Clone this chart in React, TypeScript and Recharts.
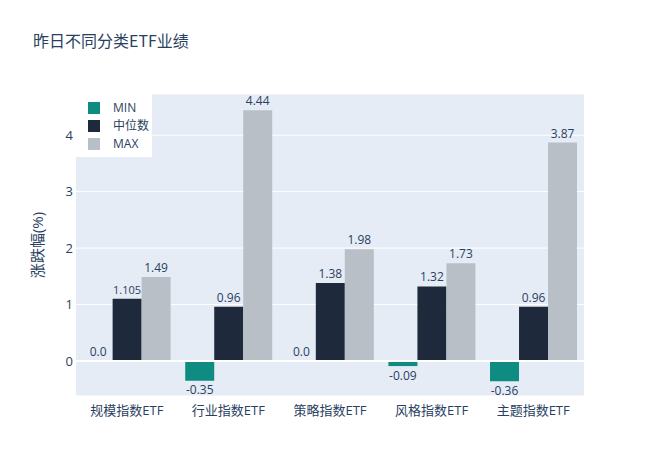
import React from 'react';
import { BarChart, Bar, XAxis, YAxis, CartesianGrid, LabelList, ReferenceLine } from 'recharts';

const categories = ['规模指数ETF', '行业指数ETF', '策略指数ETF', '风格指数ETF', '主题指数ETF'];
const minValues = [0, -0.35, 0, -0.09, -0.36];
const medianValues = [1.105, 0.96, 1.38, 1.32, 0.96];
const maxValues = [1.49, 4.44, 1.98, 1.73, 3.87];
const yTicks = [0, 1, 2, 3, 4];

const series = [
  { key: 'min', name: 'MIN', color: '#0e8c82' },
  { key: 'median', name: '中位数', color: '#1e2a3b' },
  { key: 'max', name: 'MAX', color: '#b8bfc7' },
];

const data = categories.map((name, i) => ({
  name,
  min: minValues[i],
  median: medianValues[i],
  max: maxValues[i],
}));

const FONT = '"Open Sans", "DejaVu Sans", "Noto Sans CJK SC", sans-serif';
const TEXT = '#2a3f5f';

const fmt = (v: number) => (v === 0 ? '0.0' : String(v));

const labelText = (cx: number, y: number, value: number, below: boolean) => {
  const label = fmt(value);
  // plotly shrinks the long "1.105" to fit the bar width
  const size = value > 0 && label.length > 4 ? 11 : 12;
  return (
    <text
      x={cx}
      y={below ? y + 4 : y - 5}
      dy={below ? '0.8em' : 0}
      textAnchor="middle"
      fontSize={size}
      fill={TEXT}
      fontFamily={FONT}
    >
      {label}
    </text>
  );
};

const ValueLabel = (props: any) => {
  const { x, y, width, height, value } = props;
  const top = Math.min(y, y + height);
  const bottom = Math.max(y, y + height);
  return value < 0 ? labelText(x + width / 2, bottom, value, true) : labelText(x + width / 2, top, value, false);
};

// zero-height MIN bars are not drawn, so their "0.0" label hangs off the median bar next to them
const MedianLabel = (props: any) => {
  const { x, y, width, height, value, index } = props;
  const top = Math.min(y, y + height);
  const zeroY = Math.max(y, y + height);
  return (
    <g>
      {labelText(x + width / 2, top, value, false)}
      {minValues[index] === 0 && labelText(x - width / 2, zeroY, 0, false)}
    </g>
  );
};

const LegendBox = () => (
  <div
    style={{
      position: 'absolute',
      left: 75,
      top: 94,
      background: '#fff',
      width: 77,
      height: 63,
      fontFamily: FONT,
      fontSize: 12,
      color: TEXT,
    }}
  >
    {series.map((s, i) => (
      <div key={s.key} style={{ position: 'absolute', left: 13, top: 8 + i * 18, display: 'flex', alignItems: 'center' }}>
        <span style={{ display: 'inline-block', width: 12, height: 12, background: s.color }} />
        <span style={{ marginLeft: 13, lineHeight: '12px' }}>{s.name}</span>
      </div>
    ))}
  </div>
);

const App: React.FC = () => {
  return (
    <div style={{ position: 'absolute', left: 0, top: 0, width: 660, height: 472, background: '#fff', fontFamily: FONT }}>
      <div style={{ position: 'absolute', left: 33, top: 28, fontSize: 16, color: TEXT, fontFamily: '"Noto Sans CJK SC", sans-serif' }}>
        昨日不同分类ETF业绩
      </div>
      <svg width={60} height={472} style={{ position: 'absolute', left: 0, top: 0 }}>
        <text
          x={37}
          y={245}
          transform="rotate(-90 37 245)"
          textAnchor="middle"
          dominantBaseline="central"
          fontSize={15}
          fill={TEXT}
          fontFamily={FONT}
        >
          涨跌幅(%)
        </text>
      </svg>
      <div style={{ position: 'absolute', left: 0, top: 0 }}>
        <BarChart
          width={660}
          height={472}
          data={data}
          margin={{ top: 94, right: 76, bottom: 46, left: 0 }}
          barCategoryGap="7.5%"
          barGap={0}
        >
          <CartesianGrid vertical={false} fill="#E5ECF6" stroke="#ffffff" strokeWidth={1} />
          <ReferenceLine y={0} stroke="#ffffff" strokeWidth={2} />
          <XAxis
            dataKey="name"
            height={30}
            tickLine={false}
            axisLine={false}
            tickMargin={4}
            tick={{ fontSize: 13, fill: TEXT, fontFamily: FONT }}
            interval={0}
          />
          <YAxis
            width={76}
            domain={[-0.62, 4.73]}
            ticks={yTicks}
            tickLine={false}
            axisLine={false}
            tickSize={0}
            tickMargin={3}
            allowDataOverflow
            tick={{ fontSize: 13, fill: TEXT, fontFamily: FONT }}
          />
          {series.map((s) => (
            <Bar key={s.key} dataKey={s.key} name={s.name} fill={s.color} isAnimationActive={false}>
              <LabelList dataKey={s.key} content={s.key === 'median' ? <MedianLabel /> : <ValueLabel />} />
            </Bar>
          ))}
        </BarChart>
      </div>
      <LegendBox />
    </div>
  );
};

export default App;
